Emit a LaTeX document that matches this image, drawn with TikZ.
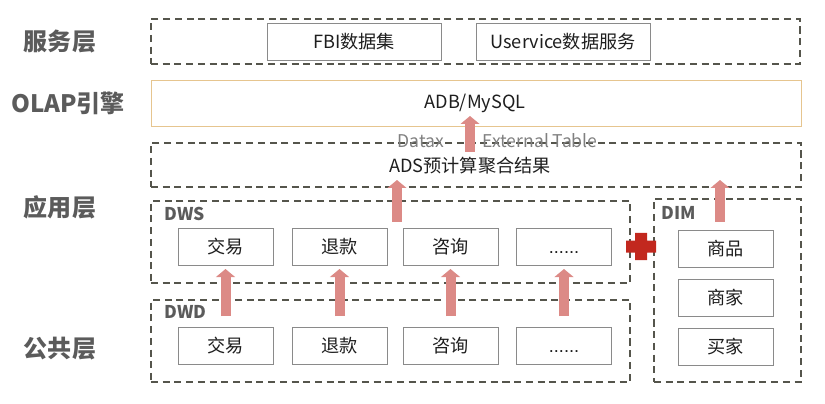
\documentclass[tikz,border=0pt]{standalone}
\usepackage{fontspec}
\setmainfont{Noto Sans CJK SC}
\newfontfamily\dotsfont{Liberation Sans}
\usetikzlibrary{arrows.meta,positioning,calc}
\definecolor{Ink}{HTML}{1E1E1E}
\definecolor{Frame}{HTML}{55554C}
\definecolor{Edge}{HTML}{8A8A8A}
\definecolor{Sand}{HTML}{E6C58F}
\definecolor{Rose}{HTML}{DC8A86}
\definecolor{Crimson}{HTML}{C2281E}
\definecolor{Muted}{HTML}{5B5B5B}
\definecolor{Faint}{HTML}{808080}

\tikzset{
  layer/.style={draw=Frame,line width=1pt,dash pattern=on 6pt off 4pt,outer sep=0pt},
  cell/.style={draw=Edge,line width=0.8pt,fill=white,minimum width=2.85cm,minimum height=1.11cm,
    outer sep=0pt,font=\fontsize{15.5}{18}\selectfont,text=Ink},
  tier/.style={font=\fontsize{20.5}{24}\bfseries\selectfont,text=Muted},
  tag/.style={font=\fontsize{15}{18}\bfseries\selectfont,text=Muted,anchor=west,inner sep=0pt},
  uparrow/.style={Rose,line width=0.3cm,-{Triangle[length=0.24cm,width=0.56cm]}}
}

\begin{document}
\begin{tikzpicture}[x=0.03cm,y=-0.03cm]
  \useasboundingbox (0,0) rectangle (825,404);

  % layer names on the left
  \node[tier] (svcname) at (60,42) {服务层};
  \node[tier] (olapname) at (68,103) {OLAP引擎};
  \node[tier] (appname) at (60,207) {应用层};
  \node[tier] (pubname) at (60,349) {公共层};

  % service layer
  \node[layer,minimum width=19.47cm,minimum height=1.35cm] (svc) at (475.5,41.5) {};
  \node[cell,minimum width=5.22cm] (fbi) at (354,41.5) {FBI数据集};
  \node[cell,minimum width=5.22cm] (usvc) at (563,41.5) {Uservice数据服务};

  % olap engine
  \node[draw=Sand,line width=0.8pt,minimum width=19.5cm,minimum height=1.38cm,outer sep=0pt] (olap) at (476,103) {};
  \node[font=\fontsize{15.5}{18}\selectfont,text=Ink] (adb) at (475,103) {ADB/MySQL};

  % ads results
  \node[layer,minimum width=19.5cm,minimum height=1.32cm] (ads) at (476,165) {};
  \node[font=\fontsize{15.5}{18}\selectfont,text=Ink] (adstext) at (470,166) {ADS预计算聚合结果};
  \node[font=\fontsize{15}{18}\selectfont,text=Faint] (datax) at (421,141) {Datax};
  \node[font=\fontsize{15}{18}\selectfont,text=Faint] (ext) at (540,141) {External Table};

  % dws
  \node[layer,minimum width=14.37cm,minimum height=2.46cm] (dws) at (390.5,242) {};
  \node[tag] (dwstag) at (164,214) {DWS};
  \node[cell] (wsjy) at (225.5,246.5) {交易};
  \node[cell] (wstk) at (339.5,246.5) {退款};
  \node[cell] (wszx) at (450.5,246.5) {咨询};
  \node[cell] (wsmore) at (564,246.5) {\vphantom{交易}\dotsfont ......};

  % dwd
  \node[layer,minimum width=14.37cm,minimum height=2.46cm] (dwd) at (390.5,341) {};
  \node[tag] (dwdtag) at (164,312) {DWD};
  \node[cell] (wdjy) at (225.5,345.5) {交易};
  \node[cell] (wdtk) at (339.5,345.5) {退款};
  \node[cell] (wdzx) at (450.5,345.5) {咨询};
  \node[cell] (wdmore) at (564,345.5) {\vphantom{交易}\dotsfont ......};

  % dim
  \node[layer,minimum width=4.41cm,minimum height=5.49cm] (dim) at (727.5,290.5) {};
  \node[tag] (dimtag) at (661,213) {DIM};
  \node[cell] (goods) at (725.5,249) {商品};
  \node[cell] (seller) at (725.5,297.5) {商家};
  \node[cell] (buyer) at (725.5,347) {买家};

  % plus sign between dws and dim
  \fill[Crimson] (635,233) -- (647,233) -- (647,240.5) -- (656,240.5) -- (656,252.5)
    -- (647,252.5) -- (647,260) -- (635,260) -- (635,252.5) -- (626,252.5)
    -- (626,240.5) -- (635,240.5) -- cycle;

  % arrows
  \coordinate (adsout) at (470,152);
  \coordinate (olapin) at (470,116);
  \coordinate (dwsout) at (397,222);
  \coordinate (adsin) at (397,180);
  \coordinate (dimout) at (720,222);
  \coordinate (dimin) at (720,180);
  \draw[uparrow] (adsout) -- (olapin);
  \draw[uparrow] (dwsout) -- (adsin);
  \draw[uparrow] (dimout) -- (dimin);
  \foreach \a/\b in {wdjy/wsjy,wdtk/wstk,wdzx/wszx,wdmore/wsmore}
    \draw[uparrow] ($(\a.north)+(0,-11)$) -- ($(\b.south)+(0,4)$);
\end{tikzpicture}
\end{document}
